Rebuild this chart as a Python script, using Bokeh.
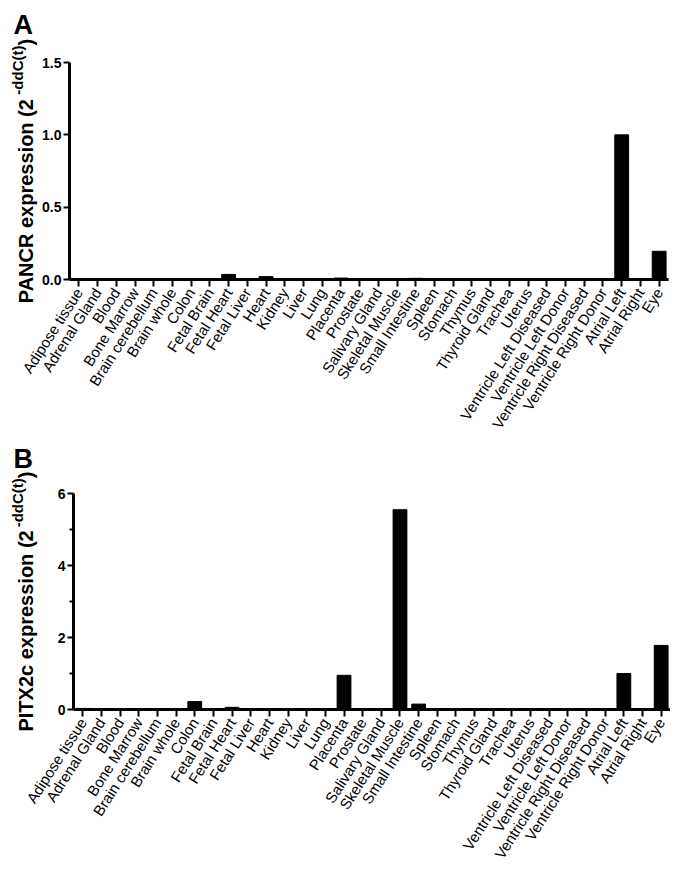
import math
from bokeh.plotting import figure
from bokeh.models import Range1d, FixedTicker, NumeralTickFormatter
from bokeh.layouts import column
from bokeh.embed import file_html
from bokeh.resources import INLINE
from bokeh.core.properties import value

tissues = ["Adipose tissue", "Adrenal Gland", "Blood", "Bone Marrow", "Brain cerebellum",
           "Brain whole", "Colon", "Fetal Brain", "Fetal Heart", "Fetal Liver", "Heart",
           "Kidney", "Liver", "Lung", "Placenta", "Prostate", "Salivary Gland",
           "Skeletal Muscle", "Small Intestine", "Spleen", "Stomach", "Thymus",
           "Thyroid Gland", "Trachea", "Uterus", "Ventricle Left Diseased",
           "Ventricle Left Donor", "Ventricle Right Diseased", "Ventricle Right Donor",
           "Atrial Left", "Atrial Right", "Eye"]

pancr = [0, 0, 0, 0, 0, 0, 0, 0, 0.035, 0, 0.02, 0, 0, 0, 0.01, 0, 0, 0, 0.008,
         0, 0, 0, 0, 0, 0, 0, 0, 0, 0, 1.0, 0, 0.195]

pitx2c = [0.03, 0, 0, 0, 0, 0, 0.22, 0, 0.06, 0, 0, 0, 0, 0, 0.95, 0.02, 0, 5.55, 0.15,
          0, 0, 0, 0, 0, 0, 0, 0, 0, 0, 1.0, 0, 1.78]

pancr_ticks = [0, 0.5, 1.0, 1.5]
pitx2c_ticks = [0, 2, 4, 6]
pitx2c_minor = [1, 3, 5]

FONT = "Liberation Sans"
W = 670


def make_panel(values, ymax, ticks, minor, fmt, letter, gene, main_em,
               height, ax_left, ax_right, ax_top, ax_bottom):
    """ax_* : canvas pixel positions of the axes box (from top-left of this figure)."""
    n = len(tissues)
    xs = list(range(n))
    ppx = (ax_right - ax_left) / n          # pixels per category
    ppy = (ax_bottom - ax_top) / ymax       # pixels per y unit
    x0 = -0.5 - ax_left / ppx
    x1 = x0 + W / ppx
    y0 = -(height - ax_bottom) / ppy
    y1 = ymax + ax_top / ppy

    def dx(cx):  # canvas x (px from left) -> data x
        return x0 + cx / ppx

    def dy(cy):  # canvas y (px from top) -> data y
        return y0 + (height - cy) / ppy

    p = figure(x_range=Range1d(x0, x1), y_range=Range1d(y0, y1), width=W, height=height,
               output_backend="svg", toolbar_location=None,
               min_border_left=0, min_border_right=0, min_border_top=0, min_border_bottom=0)
    p.vbar(x=xs, top=values, bottom=0, width=0.74, color="black")

    p.xgrid.visible = False
    p.ygrid.visible = False
    p.outline_line_color = None
    p.background_fill_color = "white"
    p.border_fill_color = "white"

    for ax in (p.xaxis, p.yaxis):
        ax.axis_line_width = 3
        ax.axis_line_color = "black"
        ax.major_tick_line_width = 2
        ax.major_tick_line_color = "black"
        ax.major_tick_in = 0
        ax.minor_tick_in = 0

    p.xaxis.fixed_location = 0
    p.xaxis.bounds = (-0.5, n - 0.5)
    p.xaxis.ticker = FixedTicker(ticks=xs, minor_ticks=[])
    p.xaxis.major_label_overrides = {i: t for i, t in enumerate(tissues)}
    p.xaxis.major_tick_out = 7
    p.xaxis.minor_tick_out = 0
    p.xaxis.major_label_orientation = 1.0
    p.xaxis.major_label_text_font = FONT
    p.xaxis.major_label_text_font_size = "15px"
    p.xaxis.major_label_text_color = "black"
    p.xaxis.major_label_standoff = 3

    p.yaxis.fixed_location = -0.5
    p.yaxis.bounds = (0, ymax)
    p.yaxis.ticker = FixedTicker(ticks=ticks, minor_ticks=minor)
    p.yaxis.formatter = NumeralTickFormatter(format=fmt)
    p.yaxis.major_tick_out = 6
    p.yaxis.minor_tick_out = 4
    p.yaxis.minor_tick_line_width = 2
    p.yaxis.minor_tick_line_color = "black"
    p.yaxis.major_label_text_font = FONT
    p.yaxis.major_label_text_font_style = "bold"
    p.yaxis.major_label_text_font_size = "14px"
    p.yaxis.major_label_text_color = "black"
    p.yaxis.major_label_standoff = 2

    bold = dict(text_font=value(FONT), text_font_style="bold", text_color="black",
                text_baseline="alphabetic", text_align="left")

    # panel letter
    p.text(x=[dx(13)], y=[dy(24)], text=[letter], text_font_size="27px", **bold)

    # rotated y-axis title with superscript
    fs_main, fs_sup = 20, 15
    main_w = main_em * fs_main
    sup_w = 3.28 * fs_sup
    gap = 3
    total = main_w + gap + sup_w + 0.333 * fs_main
    center = (ax_top + ax_bottom) / 2
    start = center + total / 2          # canvas y (from top) where the text begins
    bx = 25
    rot = dict(angle=math.pi / 2, **bold)
    p.text(x=[dx(bx)], y=[dy(start)], text=[gene + " expression (2"],
           text_font_size=f"{fs_main}px", **rot)
    p.text(x=[dx(bx - 8)], y=[dy(start - main_w - gap)], text=["-ddC(t)"],
           text_font_size=f"{fs_sup}px", **rot)
    p.text(x=[dx(bx)], y=[dy(start - main_w - gap - sup_w)], text=[")"],
           text_font_size=f"{fs_main}px", **rot)
    return p


pA = make_panel(pancr, 1.5, pancr_ticks, [], "0.0", "A", "PANCR", 10.28,
                height=434, ax_left=69, ax_right=668, ax_top=62, ax_bottom=279)
pB = make_panel(pitx2c, 6, pitx2c_ticks, pitx2c_minor, "0", "B", "PITX2c", 10.06,
                height=443, ax_left=73, ax_right=670, ax_top=59, ax_bottom=275)

layout = column(pA, pB, spacing=0)
open("out.html", "w").write(file_html(layout, INLINE))
